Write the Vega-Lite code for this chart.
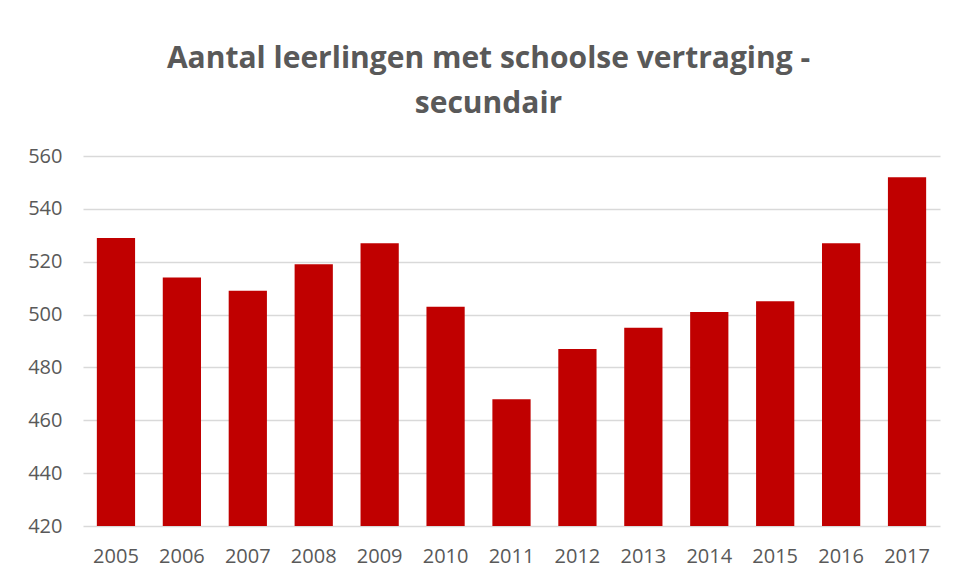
{
  "$schema": "https://vega.github.io/schema/vega-lite/v6.json",
  "autosize": "none",
  "width": 857,
  "height": 370,
  "padding": {"left": 83, "top": 156, "right": 16, "bottom": 54},
  "background": "white",
  "title": {
    "text": ["Aantal leerlingen met schoolse vertraging -", "secundair"],
    "anchor": "middle",
    "dx": -23,
    "offset": 27,
    "font": "Open Sans",
    "fontSize": 30,
    "fontWeight": "bold",
    "color": "#595959",
    "lineHeight": 45
  },
  "data": {
    "values": [
      {"jaar": "2005", "aantal": 529},
      {"jaar": "2006", "aantal": 514},
      {"jaar": "2007", "aantal": 509},
      {"jaar": "2008", "aantal": 519},
      {"jaar": "2009", "aantal": 527},
      {"jaar": "2010", "aantal": 503},
      {"jaar": "2011", "aantal": 468},
      {"jaar": "2012", "aantal": 487},
      {"jaar": "2013", "aantal": 495},
      {"jaar": "2014", "aantal": 501},
      {"jaar": "2015", "aantal": 505},
      {"jaar": "2016", "aantal": 527},
      {"jaar": "2017", "aantal": 552}
    ]
  },
  "mark": {"type": "bar", "color": "#C00000", "clip": true},
  "encoding": {
    "x": {
      "field": "jaar",
      "type": "ordinal",
      "title": null,
      "scale": {"paddingInner": 0.42, "paddingOuter": 0.21},
      "axis": {
        "labelAngle": 0,
        "labelFont": "Open Sans",
        "labelFontSize": 20,
        "labelColor": "#595959",
        "labelPadding": 20,
        "ticks": false,
        "domain": false,
        "grid": false
      }
    },
    "y": {
      "field": "aantal",
      "type": "quantitative",
      "title": null,
      "scale": {"domain": [420, 560], "zero": false, "nice": false},
      "axis": {
        "values": [420, 440, 460, 480, 500, 520, 540, 560],
        "labelFont": "Open Sans",
        "labelFontSize": 20,
        "labelColor": "#595959",
        "labelPadding": 21,
        "ticks": false,
        "domain": false,
        "grid": true,
        "gridColor": "#d9d9d9",
        "gridWidth": 1.5
      }
    }
  },
  "config": {"view": {"stroke": null}}
}
